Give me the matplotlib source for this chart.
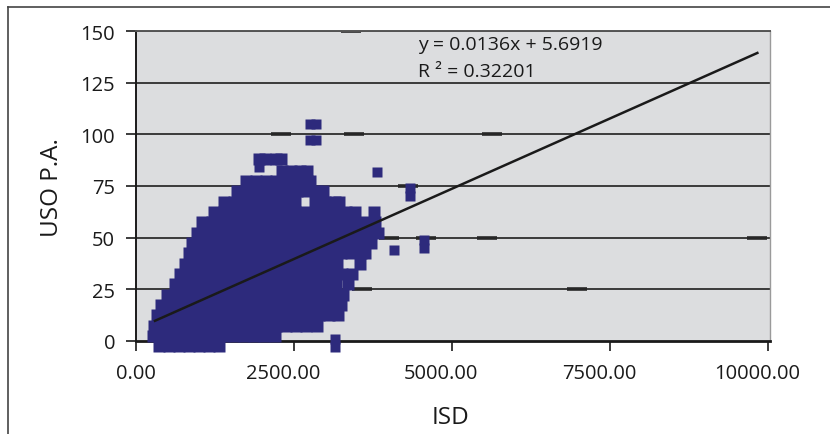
import matplotlib
matplotlib.use("Agg")
import matplotlib.pyplot as plt
from matplotlib.lines import Line2D
from matplotlib.transforms import ScaledTranslation

plt.rcParams['font.family'] = ['Open Sans', 'DejaVu Sans']

# ---- data ----
x_ticks = [0, 2500, 5000, 7500, 10000]
x_tick_labels = ["0.00", "2500.00", "5000.00", "7500.00", "10000.00"]
y_ticks = [0, 25, 50, 75, 100, 125, 150]

slope = 0.0136
intercept = 5.6919
r2 = 0.32201
trend_x = [300, 9830]

# main cloud, one list of ISD values per USO level
lvl = [-2.5, 2.5, 7.5, 12.5, 17.5, 22.5, 27.5, 32.5, 37.5, 42.5,
       47.5, 52.5, 57.5, 62.5, 67.5, 72.5, 77.5, 82.5, 88.0]
isd_m2 = [360, 520, 680, 840, 1000, 1160, 1310]
isd_02 = [270, 430, 590, 750, 910, 1070, 1230, 1390, 1550, 1710, 1870, 2030, 2200]
isd_07 = [290, 450, 610, 770, 930, 1090, 1250, 1410, 1570, 1730, 1890, 2050, 2210,
          2370, 2530, 2690, 2860]
isd_12 = [330, 490, 650, 810, 970, 1130, 1290, 1450, 1610, 1770, 1930, 2090, 2250,
          2410, 2570, 2730, 2890, 3050, 3190]
isd_17 = [390, 550, 710, 870, 1030, 1190, 1350, 1510, 1670, 1830, 1990, 2150, 2310,
          2470, 2630, 2790, 2950, 3110, 3240]
isd_22 = [490, 650, 810, 970, 1130, 1290, 1450, 1610, 1770, 1930, 2090, 2250, 2410,
          2570, 2730, 2890, 3050, 3210, 3280]
isd_27 = [610, 770, 930, 1090, 1250, 1410, 1570, 1730, 1890, 2050, 2210, 2370, 2530,
          2690, 2850, 3010, 3170, 3350]
isd_32 = [700, 860, 1020, 1180, 1340, 1500, 1660, 1820, 1980, 2140, 2300, 2460, 2620,
          2780, 2940, 3100, 3260, 3410]
isd_37 = [780, 940, 1100, 1260, 1420, 1580, 1740, 1900, 2060, 2220, 2380, 2540, 2700,
          2860, 3020, 3180, 3550]
isd_42 = [840, 1000, 1160, 1320, 1480, 1640, 1800, 1960, 2120, 2280, 2440, 2600, 2760,
          2920, 3080, 3240, 3400, 3560, 3630]
isd_47 = [890, 1050, 1210, 1370, 1530, 1690, 1850, 2010, 2170, 2330, 2490, 2650, 2810,
          2970, 3130, 3290, 3450, 3610, 3710]
isd_52 = [960, 1120, 1280, 1440, 1600, 1760, 1920, 2080, 2240, 2400, 2560, 2720, 2880,
          3040, 3200, 3360, 3520, 3680, 3830]
isd_57 = [1050, 1210, 1370, 1530, 1690, 1850, 2010, 2170, 2330, 2490, 2650, 2810, 2970,
          3130, 3290, 3450, 3610, 3780]
isd_62 = [1240, 1400, 1560, 1720, 1880, 2040, 2200, 2360, 2520, 2680, 2840, 3000, 3160,
          3320, 3460, 3760]
isd_67 = [1390, 1550, 1710, 1870, 2030, 2190, 2350, 2510, 2830, 2990, 3150, 3210]
isd_72 = [1590, 1750, 1910, 2070, 2230, 2390, 2550, 2710, 2870, 2960]
isd_77 = [1740, 1900, 2060, 2220, 2380, 2540, 2700, 2760]
isd_82 = [2310, 2450, 2600, 2700]
isd_88 = [1950, 2040, 2210, 2300]
rows = [isd_m2, isd_02, isd_07, isd_12, isd_17, isd_22, isd_27, isd_32, isd_37,
        isd_42, isd_47, isd_52, isd_57, isd_62, isd_67, isd_72, isd_77, isd_82, isd_88]

# isolated points
out_isd = [2750, 2850, 2750, 2850, 3813, 4335, 4335, 4080, 4560, 4560, 3150, 3150, 1950]
out_uso = [105, 105, 97.5, 97.5, 82, 74, 70, 44, 49, 45, 1, -3, 84]

# points lying on grid lines (shown as dark dashes)
dash_isd = [3400, 4000, 4590, 5550, 9820, 3580, 6970, 2300, 3450, 5630, 3400, 4310]
dash_uso = [50, 50, 50, 50, 50, 25, 25, 100, 100, 100, 150, 75]

# ---- figure ----
W, H = 830, 435
fig = plt.figure(figsize=(W / 100, H / 100), dpi=100)
ax = fig.add_axes([136 / W, 1 - 342 / H, 634 / W, 310 / H])
ax.set_facecolor('#dcdddf')
ax.set_xlim(0, 10030)
ax.set_ylim(0, 150)

for y in y_ticks[1:]:
    ax.axhline(y, color='#3a3a3a', lw=1.4, zorder=1)

navy = '#2d2a7c'
for yv, xs in zip(lvl, rows):
    ax.plot(xs, [yv] * len(xs), linestyle='none', marker='s', ms=8.2,
            mfc=navy, mec='none', zorder=3, clip_on=False)
ax.plot(out_isd, out_uso, linestyle='none', marker='s', ms=6.5,
        mfc=navy, mec='none', zorder=3, clip_on=False)
ax.plot(dash_isd, dash_uso, linestyle='none', marker='_', ms=15, mew=2.6,
        color='#262626', zorder=2)

ty = [slope * v + intercept for v in trend_x]
ax.plot(trend_x, ty, color='#1a1a1a', lw=1.8, zorder=4)

ax.set_xticks(x_ticks)
ax.set_xticklabels(x_tick_labels)
ax.set_yticks(y_ticks)
ax.tick_params(axis='both', labelsize=14.5, colors='#1a1a1a', length=7, width=1.2,
               direction='out')
ax.tick_params(axis='x', pad=9)
ax.tick_params(axis='y', pad=8)
for i, lab in enumerate(ax.get_xticklabels()):
    if i > 0:
        lab.set_transform(lab.get_transform() +
                          ScaledTranslation(-11 / 100, 0, fig.dpi_scale_trans))

for s in ['left', 'bottom']:
    ax.spines[s].set_color('#1a1a1a')
ax.spines['left'].set_linewidth(1.4)
ax.spines['bottom'].set_linewidth(2.0)
ax.spines['top'].set_color('#555555')
ax.spines['top'].set_linewidth(1.4)
ax.spines['right'].set_color('#9a9a9a')
ax.spines['right'].set_linewidth(1.0)
for s in ax.spines.values():
    s.set_zorder(2)

fig.text(418 / W, 1 - 45 / H, f"y = {slope}x + {intercept}", fontsize=14,
         ha='left', va='center', color='#1a1a1a')
fig.text(418 / W, 1 - 72 / H, f"R ² = {r2}", fontsize=14,
         ha='left', va='center', color='#1a1a1a')

fig.text(450 / W, 1 - 418 / H, "ISD", fontsize=17.5, ha='center', va='center',
         color='#1a1a1a')
fig.text(52 / W, 1 - 188 / H, "USO P.A.", fontsize=17.5, ha='center', va='center',
         rotation=90, color='#1a1a1a')

# outer frame
fig.add_artist(Line2D([8 / W, 8 / W], [0, 1 - 8 / H], transform=fig.transFigure,
                      color='#444444', lw=1.2))
fig.add_artist(Line2D([8 / W, 1], [1 - 8 / H, 1 - 8 / H], transform=fig.transFigure,
                      color='#444444', lw=1.2))

fig.savefig('out.png', dpi=100)
